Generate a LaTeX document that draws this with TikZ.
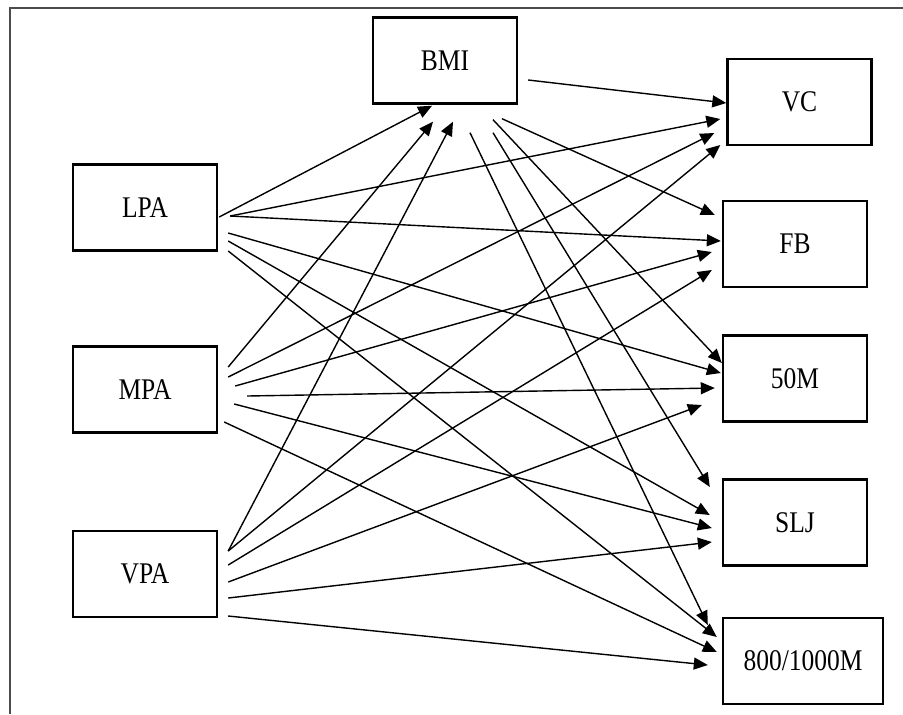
\documentclass[tikz,border=0pt]{standalone}
\usepackage{fontspec}
\setmainfont{Liberation Serif}[FakeStretch=0.85]
\usetikzlibrary{arrows.meta}

\begin{document}
\begin{tikzpicture}
		[x=0.5pt, y=-0.5pt,
		block/.style ={rectangle, draw=black, line width=1.2pt, minimum width=72pt, minimum height=43pt, inner sep=0pt, font=\fontsize{15}{18}\selectfont},
		line/.style ={line width=0.7pt, -{Triangle[length=7pt,width=6pt]}}]
		\useasboundingbox (0,0) rectangle (903,714);
		\draw[gray!60!black, line width=1pt] (10,714) -- (10,8) -- (903,8);

		% boxes
		\node[block] (bmi) at (445,60.5) {BMI};
		\node[block] (lpa) at (145,207.5) {LPA};
		\node[block] (mpa) at (145,389.5) {MPA};
		\node[block] (vpa) at (145,574) {VPA};
		\node[block] (vc) at (799.5,102) {VC};
		\node[block] (fb) at (795,244) {FB};
		\node[block] (m50) at (795,378.5) {50M};
		\node[block] (slj) at (795,522.5) {SLJ};
		\node[block, minimum width=80pt] (m800) at (803,661) {800/1000M};

		% from LPA
		\path[line]
		([shift={(1,9.5)}]lpa.east) edge ([shift={(-13,1)}]bmi.south)
		([shift={(12,8.5)}]lpa.east) edge ([shift={(-6,17)}]vc.west)
		([shift={(12,8.5)}]lpa.east) edge ([shift={(-1,-3)}]fb.west)
		([shift={(10,25.5)}]lpa.east) edge ([shift={(-1,-5.5)}]m50.west)
		([shift={(10,33.5)}]lpa.east) edge ([shift={(-12,-7.5)}]slj.west)
		([shift={(10,43.5)}]lpa.east) edge ([shift={(-5,-24)}]m800.west);

		% from MPA
		\path[line]
		([shift={(10,-22.5)}]mpa.east) edge ([shift={(-12,17)}]bmi.south)
		([shift={(10,-12.5)}]mpa.east) edge ([shift={(-12,31)}]vc.west)
		([shift={(17,-3.5)}]mpa.east) edge ([shift={(-10,8)}]fb.west)
		([shift={(29,6.5)}]mpa.east) edge ([shift={(-7,9.5)}]m50.west)
		([shift={(16,14.5)}]mpa.east) edge ([shift={(-10,5.5)}]slj.west)
		([shift={(6,32.5)}]mpa.east) edge ([shift={(-5,-9)}]m800.west);

		% from VPA
		\path[line]
		([shift={(10,-23)}]vpa.east) edge ([shift={(8,17)}]bmi.south)
		([shift={(10,-23)}]vpa.east) edge ([shift={(-6,43)}]vc.west)
		([shift={(10,-9)}]vpa.east) edge ([shift={(-10,26)}]fb.west)
		([shift={(10,8)}]vpa.east) edge ([shift={(-20,26.5)}]m50.west)
		([shift={(10,24)}]vpa.east) edge ([shift={(-10,19.5)}]slj.west)
		([shift={(10,42)}]vpa.east) edge ([shift={(-14,4)}]m800.west);

		% from BMI
		\path[line]
		([shift={(10,19.5)}]bmi.east) edge ([shift={(0,1)}]vc.west)
		([shift={(57,14)}]bmi.south) edge ([shift={(-7,-29)}]fb.west)
		([shift={(48,15)}]bmi.south) edge ([shift={(0,-15.5)}]m50.west)
		([shift={(48,28)}]bmi.south) edge ([shift={(-12,-35.5)}]slj.west)
		([shift={(25,28)}]bmi.south) edge ([shift={(-14,-36)}]m800.west);

	\end{tikzpicture}
\end{document}
